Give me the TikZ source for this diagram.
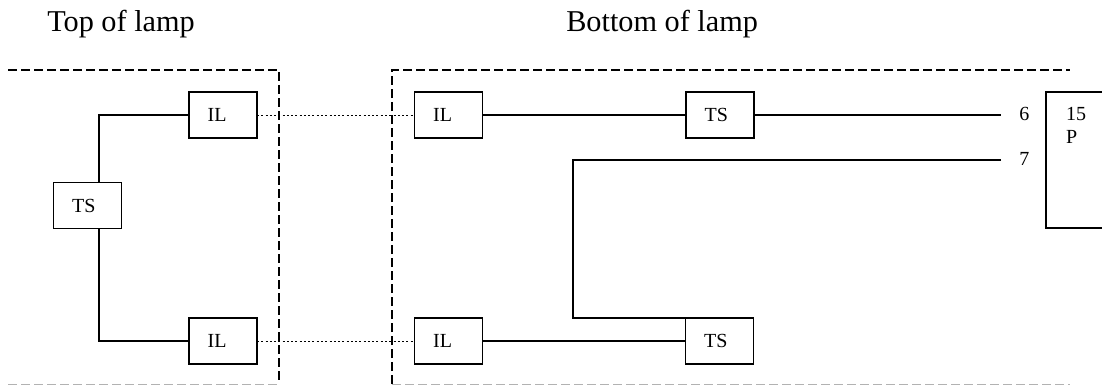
\documentclass[tikz,border=0pt]{standalone}
\usepackage{fontspec}
\setmainfont{Liberation Serif}
\begin{document}
\begin{tikzpicture}[x=0.75pt,y=-0.75pt,
  part/.style={draw=black,line width=1.1pt,fill=white,font=\fontsize{15}{17.25}\selectfont,
    minimum width=51pt,minimum height=34.5pt,text width=23pt,inner xsep=14pt,inner ysep=0pt,align=left,outer sep=0pt},
  wire/.style={draw=black,line width=1.1pt},
  link/.style={draw=black,line width=0.7pt,dash pattern=on 1.5pt off 1.7pt},
  zone/.style={draw=black,line width=0.9pt,dash pattern=on 6.5pt off 3.25pt},
  zonelow/.style={draw=black!30,line width=0.9pt,dash pattern=on 6.5pt off 3.25pt},
  pin/.style={font=\fontsize{15}{17.25}\selectfont,anchor=west,inner ysep=0pt,inner xsep=0pt},
  head/.style={font=\fontsize{22.7}{26}\selectfont,anchor=base west,inner sep=0pt}]
\useasboundingbox (0,0) rectangle (1102,385);
% zones
\coordinate (z1a) at (8,70); \coordinate (z1b) at (279,70); \coordinate (z1c) at (279,384);
\coordinate (z2a) at (392,384); \coordinate (z2b) at (392,70); \coordinate (z2c) at (1070,70);
\coordinate (z1d) at (8,384.5); \coordinate (z1e) at (279,384.5);
\coordinate (z2d) at (392,384.5); \coordinate (z2e) at (1070,384.5);
\draw[zonelow] (z1d) -- (z1e);
\draw[zonelow] (z2d) -- (z2e);
\draw[zone] (z1a) -- (z1b) -- (z1c);
\draw[zone] (z2a) -- (z2b) -- (z2c);
% headings
\node[head] (htop) at (47,32) {Top of lamp};
\node[head] (hbot) at (566,32) {Bottom of lamp};
% boxes
\node[part] (tsL) at (87.5,205.5) {TS};
\node[part] (ilA) at (223,115) {IL};
\node[part] (ilB) at (223,341) {IL};
\node[part] (ilC) at (448.5,115) {IL};
\node[part] (ilD) at (448.5,341) {IL};
\node[part] (tsA) at (720,115) {TS};
\node[part] (tsB) at (719.5,341) {TS};
% connectors
\coordinate (jL) at (99,205);
\draw[wire] (jL |- tsL.north) |- (ilA.west);
\draw[wire] (jL |- tsL.south) |- (ilB.west);
\draw[link] (ilA.east) -- (ilC.west);
\draw[link] (ilB.east) -- (ilD.west);
\draw[wire] (ilC.east) -- (tsA.west);
\draw[wire] (ilD.east) -- (tsB.west);
\node[pin] (six) at (1019,113.5) {6};
\node[pin] (seven) at (1019,158.5) {7};
\coordinate (e6) at (1001,115);
\coordinate (e7) at (1001,160);
\coordinate (j7) at (573,240);
\draw[wire] (tsA.east) -- (e6);
\draw[wire] (e7) -| (j7) |- (tsB.north west);
% panel
\node[anchor=north west,minimum width=42pt,minimum height=102pt,inner sep=0pt,outer sep=0pt] (panel) at (1046,92) {};
\draw[wire] (panel.north east) -- (panel.north west) -- (panel.south west) -- (panel.south east);
\node[anchor=north west,font=\fontsize{15}{17.25}\selectfont,text width=20pt,inner xsep=15pt,inner ysep=11.6pt,align=left,outer sep=0pt] (paneltext) at (panel.north west) {15\\P};
\end{tikzpicture}
\end{document}
